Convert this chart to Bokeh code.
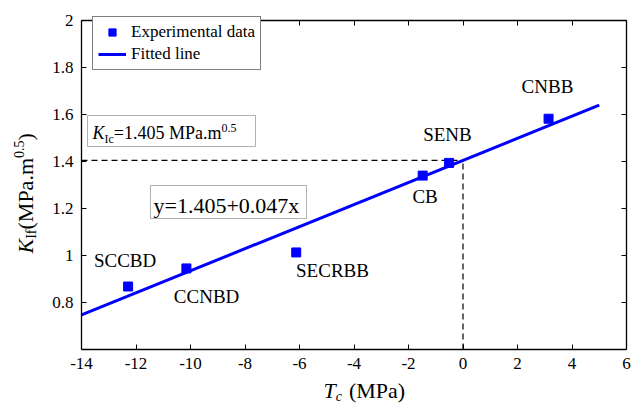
import math
from bokeh.plotting import figure
from bokeh.models import (ColumnDataSource, Label, LinearAxis, FixedTicker, Legend,
                          LegendItem, BoxAnnotation, Range1d)
from bokeh.core.properties import value
from bokeh.embed import file_html
from bokeh.resources import INLINE

# ---------------- data ----------------
specimens = ["SCCBD", "CCNBD", "SECRBB", "CB", "SENB", "CNBB"]
tc_mpa = [-12.29, -10.15, -6.12, -1.48, -0.51, 3.14]
kif = [0.868, 0.945, 1.013, 1.340, 1.394, 1.582]

fit_x = [-14.0, 5.0]
fit_y = [0.747, 1.640]

kic = 1.405

x_ticks = [-14, -12, -10, -8, -6, -4, -2, 0, 2, 4, 6]
x_tick_labels = ["-14", "-12", "-10", "-8", "-6", "-4", "-2", "0", "2", "4", "6"]
y_ticks = [0.8, 1.0, 1.2, 1.4, 1.6, 1.8, 2.0]
y_tick_labels = ["0.8", "1", "1.2", "1.4", "1.6", "1.8", "2"]

# label anchor positions (data coords)
label_x = [-12.40, -9.41, -4.79, -1.39, -0.57, 3.10]
label_y = [0.979, 0.827, 0.938, 1.253, 1.517, 1.720]

# ---------------- layout ----------------
W, H = 637, 404
FL, FR, FT, FB = 81, 626, 20, 349      # pixel box of the axes rectangle
XMIN, XMAX, YMIN, YMAX = -14, 6, 0.6, 2.0
SERIF = "Liberation Serif"
TNR = "Times New Roman"
MID = 0.3375   # distance baseline -> text middle, in em


def px2x(px):
    return XMIN + (px - FL) * (XMAX - XMIN) / (FR - FL)


def px2y(py):
    return YMIN + (FB - py) * (YMAX - YMIN) / (FB - FT)


# the frame covers the whole canvas; the axes are pinned to the data box
p = figure(width=W, height=H, output_backend="svg", toolbar_location=None,
           x_range=Range1d(px2x(0), px2x(W)), y_range=Range1d(px2y(H), px2y(0)),
           min_border_left=0, min_border_right=0, min_border_top=0, min_border_bottom=0)
p.background_fill_color = "white"
p.border_fill_color = "white"
p.grid.visible = False
p.outline_line_color = None


def style_axis(ax, ticks, labels, bounds, loc, font, show_labels=True):
    ax.ticker = FixedTicker(ticks=ticks)
    ax.bounds = bounds
    ax.fixed_location = loc
    ax.major_tick_in = 5
    ax.major_tick_out = 0
    ax.minor_tick_line_color = None
    ax.major_tick_line_color = "black"
    ax.major_tick_line_width = 1
    ax.axis_line_color = "black"
    ax.axis_line_width = 1.3
    ax.major_label_text_font = font
    ax.major_label_text_color = "black"
    ax.major_label_text_font_size = "17px"
    if show_labels:
        ax.major_label_overrides = {t: l for t, l in zip(ticks, labels)}
        ax.major_label_standoff = 8
    else:
        ax.major_label_overrides = {t: "" for t in ticks}
        ax.major_label_standoff = 0
    ax.axis_label = None


style_axis(p.xaxis[0], x_ticks, x_tick_labels, (XMIN, XMAX), YMIN, SERIF)
style_axis(p.yaxis[0], y_ticks, y_tick_labels, (YMIN, YMAX), XMIN, TNR)
top_ax = LinearAxis()
right_ax = LinearAxis()
style_axis(top_ax, x_ticks, x_tick_labels, (XMIN, XMAX), YMAX, SERIF, show_labels=False)
style_axis(right_ax, y_ticks, y_tick_labels, (YMIN, YMAX), XMAX, SERIF, show_labels=False)
p.add_layout(top_ax, "above")
p.add_layout(right_ax, "right")

# dashed guide lines at K_Ic
p.line(x=[XMIN, 0], y=[kic, kic], line_color="black", line_width=1.2, line_dash="6 4")
p.line(x=[0, 0], y=[YMIN, kic], line_color="black", line_width=1.2, line_dash="6 4")

# fitted line
ln = p.line(x=fit_x, y=fit_y, line_color="#0000ff", line_width=3)

# data points
src = ColumnDataSource(dict(x=tc_mpa, y=kif))
sc = p.scatter(x="x", y="y", source=src, marker="square", size=9,
               fill_color="#0000ff", line_color="#0000ff")

# specimen labels
lsrc = ColumnDataSource(dict(x=label_x, y=label_y, t=specimens))
p.text(x="x", y="y", text="t", source=lsrc, text_font=value(SERIF),
       text_font_size="19px", text_align="center", text_baseline="middle",
       text_color="black")

# legend
legend = Legend(items=[LegendItem(label="Experimental data", renderers=[sc]),
                       LegendItem(label="Fitted line", renderers=[ln])],
                location=(92, H - 70))
legend.label_text_font = SERIF
legend.label_text_font_size = "17px"
legend.label_text_color = "black"
legend.padding = 5
legend.spacing = 2
legend.margin = 0
legend.glyph_width = 28
legend.glyph_height = 18
legend.label_height = 18
legend.label_standoff = 5
legend.border_line_color = "black"
legend.border_line_width = 1.2
legend.background_fill_color = "white"
legend.background_fill_alpha = 1
p.add_layout(legend)

# ---------------- rich text helpers ----------------
REG = {' ': 250, '(': 333, ')': 333, '+': 564, '.': 250, '=': 564, 'I': 333,
       'M': 889, 'P': 556, 'a': 444, 'c': 444, 'f': 333, 'm': 778, 'y': 500, 'x': 500}
ITA = {'K': 667, 'T': 556, 'c': 444}


def text_width(s, size, italic):
    tbl = ITA if italic else REG
    return sum((500 if ch.isdigit() else tbl.get(ch, 500)) for ch in s) * size / 1000.0


def rich(pieces, start_px, base_px, rotated=False):
    """pieces: (text, size px, italic, baseline shift px (up = +), gap px before)"""
    off = 0.0
    for txt, size, italic, shift, gap in pieces:
        off += gap
        style = "italic" if italic else "normal"
        mid = base_px - shift - MID * size   # pixel position of the text middle
        if not rotated:
            lab = Label(x=px2x(start_px + off), y=px2y(mid), text=txt,
                        text_font=SERIF, text_font_size=f"{size}px",
                        text_font_style=style, text_color="black",
                        text_align="left", text_baseline="middle")
        else:
            lab = Label(x=px2x(mid), y=px2y(start_px - off), text=txt,
                        text_font=SERIF, text_font_size=f"{size}px",
                        text_font_style=style, text_color="black",
                        text_align="left", text_baseline="middle", angle=math.pi / 2)
        p.add_layout(lab)
        off += text_width(txt, size, italic)


# K_Ic box
p.add_layout(BoxAnnotation(left=px2x(87), right=px2x(255), top=px2y(115), bottom=px2y(146),
                           fill_color="white", fill_alpha=1, line_color="black",
                           line_width=1, level="underlay"))
rich([("K", 18, True, 0, 0), ("Ic", 12, False, -4, 0), ("=1.405 MPa.m", 18, False, 0, 0),
      ("0.5", 12, False, 7, 0)], 92, 138.5)

# equation box
p.add_layout(BoxAnnotation(left=px2x(150), right=px2x(306), top=px2y(185), bottom=px2y(218),
                           fill_color="white", fill_alpha=1, line_color="black",
                           line_width=1, level="underlay"))
rich([("y=1.405+0.047x", 22, False, 0, 0)], 153, 212)

# axis labels
rich([("T", 22, True, 0, 0), ("c", 14, True, -4, 0), ("(MPa)", 22, False, 0, 7)], 323, 397)
rich([("K", 22, True, 0, 0), ("If", 14, False, -4, 0), ("(MPa.m", 22, False, 0, 0),
      ("0.5", 14, False, 9, 0), (")", 22, False, 0, 0)], 253, 32, rotated=True)

open("out.html", "w").write(file_html(p, INLINE))
